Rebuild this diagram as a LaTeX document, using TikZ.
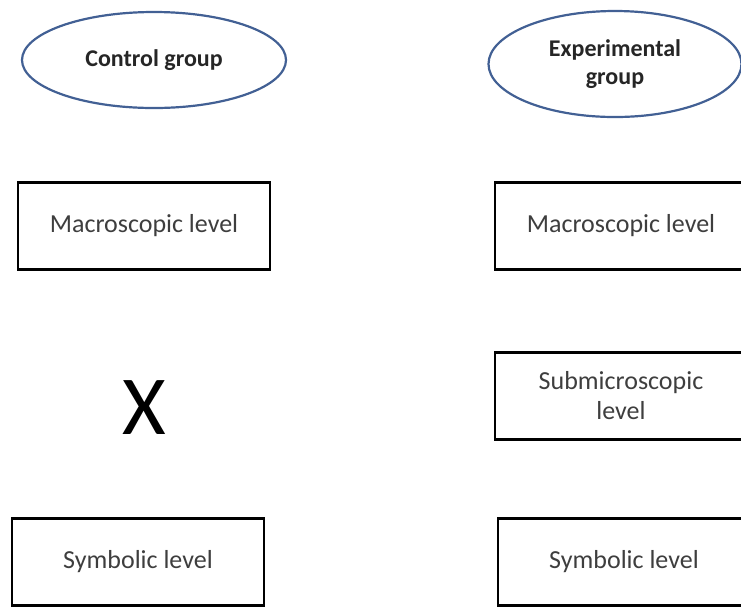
\documentclass[tikz,border=0pt]{standalone}
\usepackage{fontspec}
\setmainfont{Carlito}
\usepackage{tikz}
\usetikzlibrary{shapes,arrows}
\definecolor{ellipseblue}{RGB}{66,96,148}
\definecolor{leveltext}{RGB}{62,62,62}
\tikzstyle{block} = [draw, line width=1.25pt, rectangle, text=leveltext,
    minimum height=43.5pt, minimum width=126pt, align=center,
    font=\fontsize{13}{15}\selectfont]
\tikzstyle{group} = [draw=ellipseblue, line width=1.1pt, ellipse, inner sep=0pt,
    minimum height=48pt, minimum width=132pt, align=center, text=black!85,
    font=\fontsize{12}{14}\selectfont\bfseries]

\begin{document}
\begin{tikzpicture}[auto, node distance=83pt]
    \useasboundingbox (0,0) rectangle (370.5pt,-303.5pt);
    \node [group] (control) at (77pt,-30pt) {Control group};
    \node [group, right of=control, node distance=230.5pt, yshift=-2pt,
        minimum width=126.5pt, minimum height=53pt] (experimental) {Experimental\\group};
    % control group levels
    \node [block, below of=control, xshift=-5pt] (macroC) {Macroscopic level};
    \node [below of=macroC, node distance=91pt, font=\fontsize{42}{48}\selectfont] (missing) {X};
    \node [block, below of=missing, node distance=77pt, xshift=-3pt] (symbolC) {Symbolic level};
    % experimental group levels
    \node [block, right of=macroC, node distance=238.5pt] (macroE) {Macroscopic level};
    \node [block, below of=macroE, node distance=85pt] (submicroE) {Submicroscopic\\level};
    \node [block, below of=submicroE, xshift=1.5pt] (symbolE) {Symbolic level};
\end{tikzpicture}
\end{document}
